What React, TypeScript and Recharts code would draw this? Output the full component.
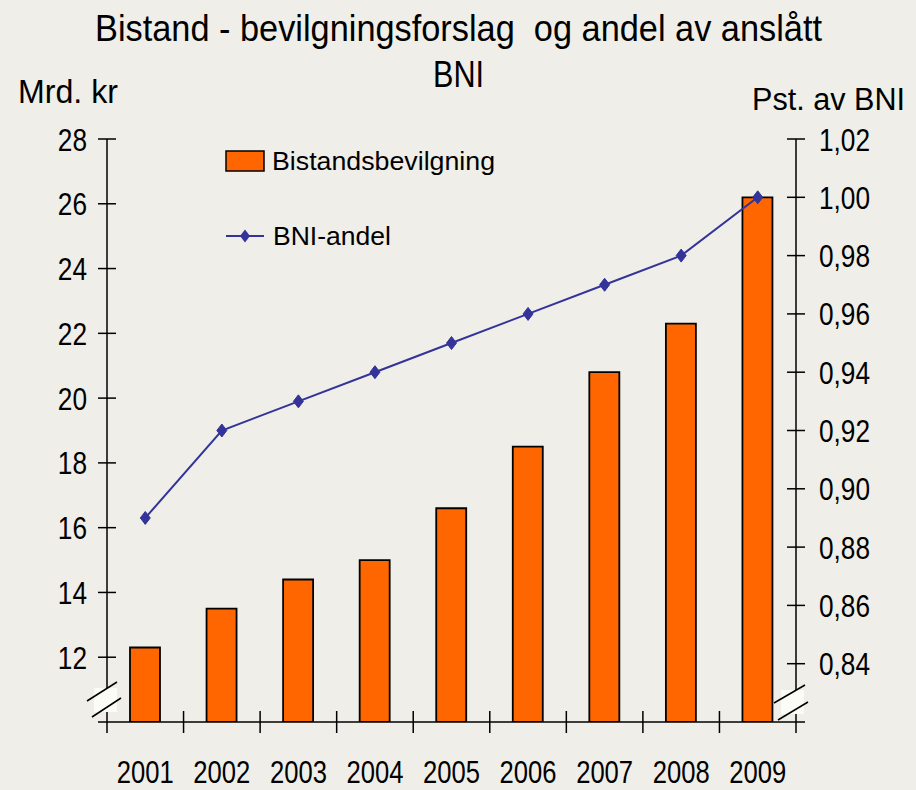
import React from 'react';
import { ComposedChart, Bar, Line, XAxis, YAxis, Legend } from 'recharts';

const years = ['2001', '2002', '2003', '2004', '2005', '2006', '2007', '2008', '2009'];
const aidBillions = [12.3, 13.5, 14.4, 15.0, 16.6, 18.5, 20.8, 22.3, 26.2];
const gniShare = [0.89, 0.92, 0.93, 0.94, 0.95, 0.96, 0.97, 0.98, 1.0];
const leftTicks = [12, 14, 16, 18, 20, 22, 24, 26, 28];
const rightTicks = [0.84, 0.86, 0.88, 0.9, 0.92, 0.94, 0.96, 0.98, 1.0, 1.02];
const titleLine1 = 'Bistand - bevilgningsforslag  og andel av anslått';
const titleLine2 = 'BNI';
const leftAxisTitle = 'Mrd. kr';
const rightAxisTitle = 'Pst. av BNI';
const barName = 'Bistandsbevilgning';
const lineName = 'BNI-andel';

const data = years.map((y, i) => ({ year: y, aid: aidBillions[i], share: gniShare[i] }));

const W = 916;
const H = 790;
const MARGIN = { top: 139, right: 40, bottom: 8, left: 47 };
const LEFT_W = 60;
const RIGHT_W = 80;
const X_H = 60;
const PL = MARGIN.left + LEFT_W;
const PR = W - MARGIN.right - RIGHT_W;
const BAND = (PR - PL) / years.length;
const FONT = "'Liberation Sans', Arial, sans-serif";
const BG = '#EFEEE8';
const BAR = '#FF6600';
const LINE = '#333399';

const LeftTick = (p: any) => {
  const { x, y, payload } = p;
  const ax = x + 20;
  return (
    <g>
      <line x1={ax - 9} x2={ax + 9} y1={y} y2={y} stroke="#000" strokeWidth={1.5} />
      <text transform={`translate(${x},${y}) scale(0.82,1)`} textAnchor="end" dy="0.36em" fontSize={32} fill="#000" fontFamily={FONT}>
        {payload.value}
      </text>
    </g>
  );
};

const RightTick = (p: any) => {
  const { x, y, payload } = p;
  const ax = x - 23;
  const label = Number(payload.value).toFixed(2).replace('.', ',');
  return (
    <g>
      <line x1={ax - 9} x2={ax + 9} y1={y} y2={y} stroke="#000" strokeWidth={1.5} />
      <text transform={`translate(${x},${y}) scale(0.82,1)`} textAnchor="start" dy="0.36em" fontSize={32} fill="#000" fontFamily={FONT}>
        {label}
      </text>
    </g>
  );
};

const XTick = (p: any) => {
  const { x, y, payload, index } = p;
  const ay = y;
  const bx = x - BAND / 2;
  const last = index === years.length - 1;
  return (
    <g>
      {index === 0 && <line x1={PL - 9} x2={PR + 9} y1={ay} y2={ay} stroke="#000" strokeWidth={1.5} />}
      <line x1={bx} x2={bx} y1={index === 0 ? ay : ay - 11} y2={ay + 11} stroke="#000" strokeWidth={1.5} />
      {last && <line x1={x + BAND / 2} x2={x + BAND / 2} y1={ay} y2={ay + 11} stroke="#000" strokeWidth={1.5} />}
      <text transform={`translate(${x},${ay + 61}) scale(0.8,1)`} textAnchor="middle" fontSize={32} fill="#000" fontFamily={FONT}>
        {payload.value}
      </text>
    </g>
  );
};

const Diamond = (p: any) => {
  const { cx, cy } = p;
  if (cx == null || cy == null) return null;
  return <polygon points={`${cx},${cy - 6.5} ${cx + 5},${cy} ${cx},${cy + 6.5} ${cx - 5},${cy}`} fill={LINE} stroke={LINE} strokeWidth={1} />;
};

const renderLegend = () => (
  <svg width={300} height={120} style={{ display: 'block' }}>
    <rect x={4} y={11} width={38} height={20} fill={BAR} stroke="#000" strokeWidth={1.5} />
    <text x={50} y={30} fontSize={26} fontFamily={FONT} fill="#000" textLength={223} lengthAdjust="spacingAndGlyphs">
      {barName}
    </text>
    <line x1={4} x2={42} y1={96} y2={96} stroke={LINE} strokeWidth={2} />
    <polygon points={`23,89.5 28,96 23,102.5 18,96`} fill={LINE} />
    <text x={51} y={105} fontSize={26} fontFamily={FONT} fill="#000" textLength={118} lengthAdjust="spacingAndGlyphs">
      {lineName}
    </text>
  </svg>
);

export default function App() {
  return (
    <div style={{ position: 'absolute', left: 0, top: 0, width: W, height: H, background: BG, overflow: 'hidden' }}>
      <ComposedChart width={W} height={H} data={data} margin={MARGIN}>
        <XAxis
          dataKey="year"
          height={X_H}
          axisLine={false}
          tickLine={false}
          tickSize={0}
          tickMargin={0}
          interval={0}
          tick={<XTick />}
        />
        <YAxis
          yAxisId="left"
          orientation="left"
          width={LEFT_W}
          domain={[10, 28]}
          ticks={leftTicks}
          interval={0}
          allowDataOverflow
          axisLine={{ stroke: '#000', strokeWidth: 1.5 }}
          tickLine={false}
          tickSize={0}
          tickMargin={20}
          tick={<LeftTick />}
        />
        <YAxis
          yAxisId="right"
          orientation="right"
          width={RIGHT_W}
          domain={[0.82, 1.02]}
          ticks={rightTicks}
          interval={0}
          allowDataOverflow
          axisLine={{ stroke: '#000', strokeWidth: 1.5 }}
          tickLine={false}
          tickSize={0}
          tickMargin={23}
          tick={<RightTick />}
        />
        <Legend
          layout="vertical"
          align="center"
          verticalAlign="middle"
          content={renderLegend}
          wrapperStyle={{ position: 'absolute', left: 222, top: 140, width: 300, height: 120 }}
        />
        <Bar yAxisId="left" dataKey="aid" name={barName} fill={BAR} stroke="#000" strokeWidth={1.8} barSize={30} isAnimationActive={false} />
        <Line
          yAxisId="right"
          dataKey="share"
          name={lineName}
          stroke={LINE}
          strokeWidth={2}
          dot={<Diamond />}
          activeDot={false}
          isAnimationActive={false}
        />
      </ComposedChart>
      <svg width={W} height={H} style={{ position: 'absolute', left: 0, top: 0, pointerEvents: 'none' }}>
        <text x={95} y={41} fontSize={37} fontFamily={FONT} fill="#000" textLength={727} lengthAdjust="spacingAndGlyphs" style={{ whiteSpace: 'pre' }}>
          {titleLine1}
        </text>
        <text x={433} y={87} fontSize={37} fontFamily={FONT} fill="#000" textLength={51} lengthAdjust="spacingAndGlyphs">
          {titleLine2}
        </text>
        <text x={18} y={103} fontSize={33} fontFamily={FONT} fill="#000" textLength={100} lengthAdjust="spacingAndGlyphs" style={{ whiteSpace: 'pre' }}>
          {leftAxisTitle}
        </text>
        <text x={752} y={110} fontSize={31} fontFamily={FONT} fill="#000" textLength={153} lengthAdjust="spacingAndGlyphs" style={{ whiteSpace: 'pre' }}>
          {rightAxisTitle}
        </text>
        <g stroke="#000" strokeWidth={1.5}>
          <rect x={94} y={688} width={23} height={24} fill="#FCFCF6" stroke="none" />
          <line x1={87} y1={701} x2={117} y2={682} />
          <line x1={92} y1={717} x2={121} y2={698} />
          <rect x={781} y={690} width={23} height={24} fill="#FCFCF6" stroke="none" />
          <line x1={774} y1={703} x2={805} y2={685} />
          <line x1={778} y1={720} x2={808} y2={702} />
        </g>
      </svg>
    </div>
  );
}
